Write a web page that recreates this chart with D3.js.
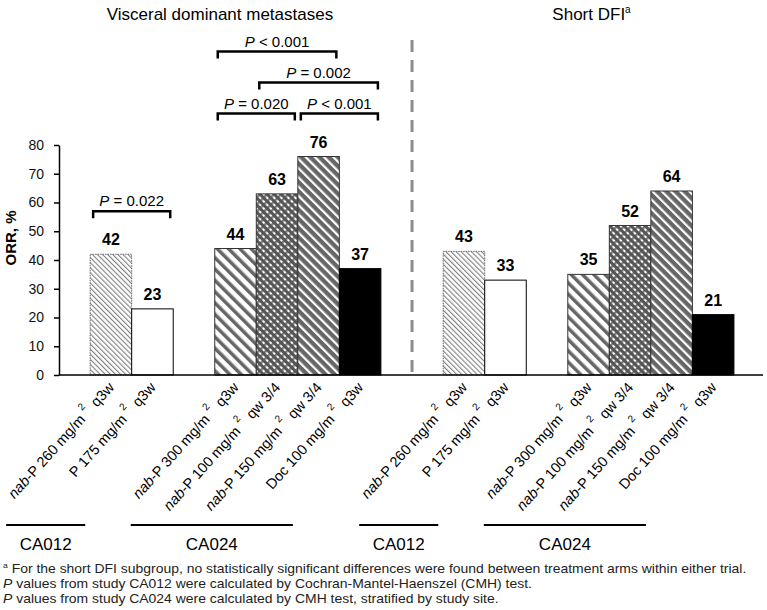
<!DOCTYPE html>
<meta charset="utf-8">
<style>
body { margin: 0; background: #fff; }
svg { font-family: "Liberation Sans", Arial, Helvetica, sans-serif; }
.tick text { font-size: 14px; fill: #111; }
.val { font-size: 16px; font-weight: bold; text-anchor: middle; }
.ptext { font-size: 15px; text-anchor: middle; }
.xlab { font-size: 14.5px; text-anchor: end; }
.title { font-size: 17px; text-anchor: middle; }
.grp { font-size: 17px; text-anchor: middle; }
.foot { font-size: 13px; fill: #222; }
</style>
<svg width="767" height="610"></svg>
<script src="https://d3js.org/d3.v7.min.js"></script>
<script>

// arms, same order in both panels
var armDrug = ["nab-P", "P", "nab-P", "nab-P", "nab-P", "Doc"];
var armDose = ["260", "175", "300", "100", "150", "100"];
var armSchedule = ["q3w", "q3w", "q3w", "qw 3/4", "qw 3/4", "q3w"];
var armTrial = ["CA012", "CA012", "CA024", "CA024", "CA024", "CA024"];
var armPattern = ["fine", "white", "wide", "dense", "medium", "black"];

var panelTitles = ["Visceral dominant metastases", "Short DFI"];
var visceralORR = [42, 23, 44, 63, 76, 37];
var shortDfiORR = [43, 33, 35, 52, 64, 21];
var yTicks = [0, 10, 20, 30, 40, 50, 60, 70, 80];
var trials = ["CA012", "CA024"];

// P value brackets (visceral panel only)
var pFrom = [0, 2, 3, 2, 4];
var pTo = [1, 4, 5, 3, 5];
var pSign = ["=", "<", "=", "=", "<"];
var pValue = ["0.022", "0.001", "0.002", "0.020", "0.001"];
var pTier = [0, 2, 1, 0, 0];

var footnotes = [
	["a", " For the short DFI subgroup, no statistically significant differences were found between treatment arms within either trial."],
	["P", " values from study CA012 were calculated by Cochran-Mantel-Haenszel (CMH) test."],
	["P", " values from study CA024 were calculated by CMH test, stratified by study site."]
];

var svg = d3.select("svg");
var left = 59, right = 763, axisY = 375, topY = 145;

// slot position of a bar: trial gap of one bar, panel gap of 1.5 bars
function slot(panel, i) {
	return panel * 8.5 + i + (armTrial[i] == "CA024" ? 1 : 0);
}

var x = d3.scaleLinear().domain([-0.75, 16.2]).range([left, right]);
var bw = x(1) - x(0);
var y = d3.scaleLinear().domain([0, 80]).range([axisY, topY]);

// patterns
var defs = svg.append("defs");
function stripes(id, size, bg, fg, w) {
	var p = defs.append("pattern").attr("id", id)
		.attr("patternUnits", "userSpaceOnUse")
		.attr("width", size).attr("height", size)
		.attr("patternTransform", "rotate(-45)");
	p.append("rect").attr("width", size).attr("height", size).attr("fill", bg);
	p.append("rect").attr("width", w).attr("height", size).attr("fill", fg);
	return p;
}
stripes("fine", 3.6, "#fff", "#808080", 1.1);
stripes("wide", 8, "#fff", "#666", 3.5);
stripes("medium", 6.5, "#666", "#fff", 2.2);
var dense = stripes("dense", 5, "#fff", "#555", 3);
dense.append("rect").attr("x", 3).attr("y", 0).attr("width", 2).attr("height", 2.5).attr("fill", "#7a7a7a");

function fillOf(k) {
	if (k == "white") return "#fff";
	if (k == "black") return "#000";
	return "url(#" + k + ")";
}
function strokeOf(k) {
	if (k == "fine") return "#666";
	if (k == "white" || k == "black") return "#000";
	return "#333";
}

// bars
var bars = [];
[visceralORR, shortDfiORR].forEach(function(vals, p) {
	vals.forEach(function(v, i) {
		bars.push({panel: p, arm: i, value: v, pos: slot(p, i)});
	});
});

svg.append("g").selectAll("rect")
	.data(bars)
	.enter()
	.append("rect")
	.attr("x", function(d) { return x(d.pos); })
	.attr("y", function(d) { return y(d.value); })
	.attr("width", bw)
	.attr("height", function(d) { return axisY - y(d.value); })
	.attr("fill", function(d) { return fillOf(armPattern[d.arm]); })
	.attr("stroke", function(d) { return strokeOf(armPattern[d.arm]); })
	.attr("stroke-width", 1)
	.attr("stroke-dasharray", function(d) { return armPattern[d.arm] == "fine" ? "1.5,1" : null; });

svg.append("g").selectAll("text")
	.data(bars)
	.enter()
	.append("text")
	.attr("class", "val")
	.attr("x", function(d) { return x(d.pos) + bw / 2; })
	.attr("y", function(d) { return y(d.value) - 9; })
	.text(function(d) { return d.value; });

// y axis
var yAxis = svg.append("g")
	.attr("transform", "translate(" + left + ",0)")
	.call(d3.axisLeft(y).tickValues(yTicks).tickSize(5).tickPadding(10).tickSizeOuter(0));
yAxis.select(".domain").attr("stroke", "#000").attr("stroke-width", 1.5);
yAxis.selectAll(".tick line").attr("stroke", "#000").attr("stroke-width", 1.5);

svg.append("text")
	.attr("transform", "translate(16,238) rotate(-90)")
	.attr("text-anchor", "middle")
	.style("font-size", "15px")
	.style("font-weight", "bold")
	.text("ORR, %");

// x axis line
svg.append("line")
	.attr("x1", left).attr("x2", right)
	.attr("y1", axisY).attr("y2", axisY)
	.attr("stroke", "#000").attr("stroke-width", 1.5);

// panel divider
var divX = (x(7) + x(8.5)) / 2;
svg.append("line")
	.attr("x1", divX).attr("x2", divX)
	.attr("y1", 40).attr("y2", axisY + 5)
	.attr("stroke", "#8c8c8c").attr("stroke-width", 3)
	.attr("stroke-dasharray", "12,8");

// panel titles
var titleX = [(left + x(7)) / 2, (divX + right) / 2];
svg.append("text").attr("class", "title").attr("x", titleX[0]).attr("y", 20).text(panelTitles[0]);
var t1 = svg.append("text").attr("class", "title").attr("x", titleX[1] + 4).attr("y", 20);
t1.append("tspan").text(panelTitles[1]);
t1.append("tspan").attr("dy", -7).style("font-size", "10px").text("a");

// x labels
bars.forEach(function(d) {
	var cx = x(d.pos) + bw / 2 + 4;
	var t = svg.append("text")
		.attr("class", "xlab")
		.attr("transform", "translate(" + cx + "," + (axisY + 13) + ") rotate(-48)");
	if (armDrug[d.arm] == "nab-P") {
		t.append("tspan").style("font-style", "italic").text("nab");
		t.append("tspan").text("-P " + armDose[d.arm] + " mg/m");
	} else {
		t.append("tspan").text(armDrug[d.arm] + " " + armDose[d.arm] + " mg/m");
	}
	t.append("tspan").attr("dx", 4).attr("dy", -9).style("font-size", "10px").text("2");
	t.append("tspan").attr("dx", 7).attr("dy", 9).text(armSchedule[d.arm]);
});

// trial group lines
[0, 1].forEach(function(p) {
	trials.forEach(function(tr) {
		var idx = d3.range(6).filter(function(i) { return armTrial[i] == tr; });
		var x1 = x(slot(p, idx[0])) - 84;
		var x2 = x(slot(p, idx[idx.length - 1]) + 1) - 88;
		svg.append("line")
			.attr("x1", x1).attr("x2", x2)
			.attr("y1", 525).attr("y2", 525)
			.attr("stroke", "#000").attr("stroke-width", 2);
		svg.append("text").attr("class", "grp")
			.attr("x", (x1 + x2) / 2).attr("y", 550)
			.text(tr);
	});
});

// P value brackets
var groupTop = {};
visceralORR.forEach(function(v, i) {
	groupTop[armTrial[i]] = Math.max(groupTop[armTrial[i]] || 0, v);
});
pFrom.forEach(function(f, k) {
	var by = y(groupTop[armTrial[f]]) - 43 - pTier[k] * 31;
	var x1 = x(slot(0, f)) + 3;
	var x2 = x(slot(0, pTo[k]) + 1) - 3;
	svg.append("path")
		.attr("d", "M" + x1 + "," + (by + 7) + "V" + by + "H" + x2 + "V" + (by + 7))
		.attr("fill", "none").attr("stroke", "#000").attr("stroke-width", 2.5);
	var t = svg.append("text").attr("class", "ptext")
		.attr("x", (x1 + x2) / 2).attr("y", by - 5);
	t.append("tspan").style("font-style", "italic").text("P");
	t.append("tspan").text(" " + pSign[k] + " " + pValue[k]);
});

// footnotes
var foot = svg.append("g").attr("transform", "translate(3,0)");
footnotes.forEach(function(f, k) {
	var t = foot.append("text").attr("class", "foot").attr("y", 573 + k * 15);
	if (k == 0) {
		t.append("tspan").attr("dy", -5).style("font-size", "8px").text(f[0]);
		t.append("tspan").attr("dy", 5).text(f[1]);
	} else {
		t.append("tspan").style("font-style", "italic").text(f[0]);
		t.append("tspan").text(f[1]);
	}
});
var w0 = foot.select("text").node().getComputedTextLength();
foot.attr("transform", "translate(3,0) scale(" + (744 / w0) + ",1)");

</script>
